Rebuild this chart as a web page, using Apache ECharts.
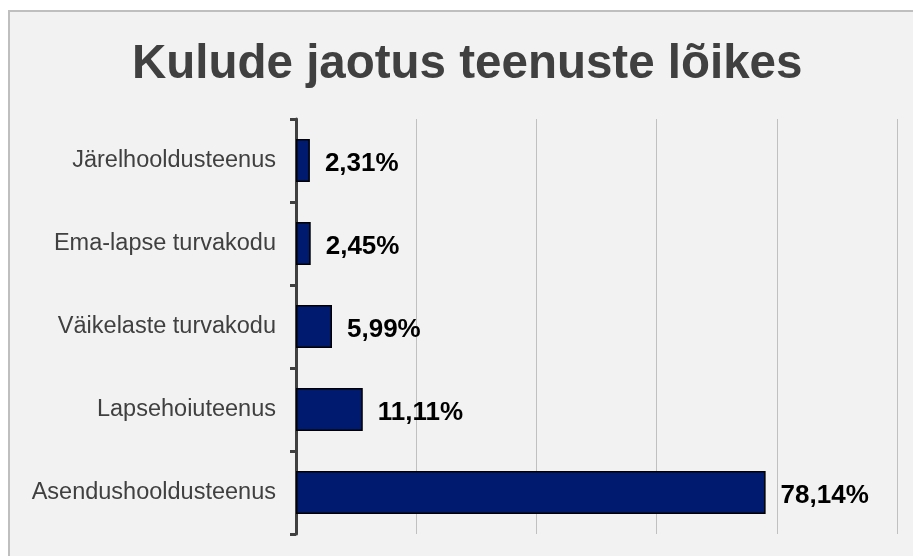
<!DOCTYPE html>
<html>
<head>
<meta charset="utf-8">
<script src="https://cdn.jsdelivr.net/npm/echarts@6.0.0/dist/echarts.min.js"></script>
<style>
  html, body { margin: 0; padding: 0; background: #ffffff; }
  #chart { width: 913px; height: 556px; }
</style>
</head>
<body>
<div id="chart"></div>
<script>
// services, top to bottom as in the chart
const services = [
    "Järelhooldusteenus",
    "Ema-lapse turvakodu",
    "Väikelaste turvakodu",
    "Lapsehoiuteenus",
    "Asendushooldusteenus"
];
// share of costs, %
const shares = [2.31, 2.45, 5.99, 11.11, 78.14];

const titleText = "Kulude jaotus teenuste lõikes";
const font = "'Liberation Sans', Arial, sans-serif";

const chart = echarts.init(document.getElementById("chart"));

chart.setOption({
    animation: false,
    backgroundColor: "#ffffff",
    graphic: [{
        type: "rect",
        z: -10,
        shape: { x: 9, y: 11, width: 920, height: 560 },
        style: { fill: "#f2f2f2", stroke: "#bfbfbf", lineWidth: 2 }
    }],
    title: {
        text: titleText,
        left: 127,
        top: 36,
        padding: 5,
        textStyle: {
            fontFamily: font,
            fontSize: 47.5,
            fontWeight: "bold",
            color: "#404040"
        }
    },
    grid: { left: 296, right: 16, top: 119, bottom: 22, containLabel: false },
    xAxis: {
        type: "value",
        min: 0,
        max: 100,
        interval: 20,
        axisLine: { show: false },
        axisTick: { show: false },
        axisLabel: { show: false },
        splitLine: { show: true, lineStyle: { color: "#c0c0c0", width: 1 } }
    },
    yAxis: {
        type: "category",
        inverse: true,
        data: services,
        axisLine: { show: true, lineStyle: { color: "#404040", width: 3 } },
        axisTick: { show: true, length: 6, lineStyle: { color: "#404040", width: 3 } },
        axisLabel: {
            margin: 20,
            fontFamily: font,
            fontSize: 23.5,
            color: "#404040"
        }
    },
    series: [{
        type: "bar",
        data: shares,
        barWidth: 43,
        itemStyle: { color: "#001a70", borderColor: "#000000", borderWidth: 1.5 },
        label: {
            show: true,
            position: "right",
            distance: 15,
            offset: [0, 3],
            fontFamily: font,
            fontSize: 26,
            fontWeight: "bold",
            color: "#000000",
            formatter: (p) => p.value.toFixed(2).replace(".", ",") + "%"
        }
    }]
});
</script>
</body>
</html>
